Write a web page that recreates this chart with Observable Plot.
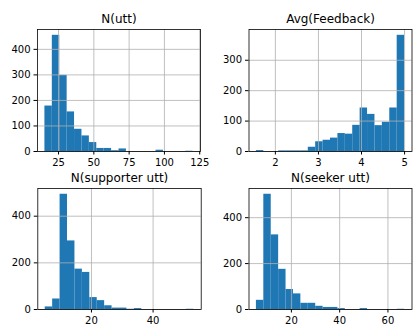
<!DOCTYPE html>
<html>
<head>
<meta charset="utf-8">
<script src="https://cdn.jsdelivr.net/npm/d3@7"></script>
<script src="https://cdn.jsdelivr.net/npm/@observablehq/plot@0.6"></script>
<style>
  html, body { margin: 0; padding: 0; background: white; }
  #chart { position: relative; width: 413px; height: 325px; overflow: hidden; background: white; }
  #chart svg { position: absolute; left: 0; top: 0; }
</style>
</head>
<body>
<div id="chart"></div>
<script>
// ---- Data (histogram bin counts, 20 bins each, and data range [min, max]) ----
const titles = ["N(utt)", "Avg(Feedback)", "N(supporter utt)", "N(seeker utt)"];

const nUttCounts = [178, 455, 298, 155, 87, 61, 35, 12, 12, 3, 10, 0, 0, 0, 0, 5, 0, 0, 0, 1];
const nUttRange = [15.35, 120.3];
const nUttXTicks = [25, 50, 75, 100, 125];
const nUttYTicks = [0, 100, 200, 300, 400];

const feedbackCounts = [3, 0, 0, 2, 2, 2, 2, 14, 32, 37, 44, 59, 57, 86, 143, 122, 85, 96, 143, 382];
const feedbackRange = [1.56, 5.0];
const feedbackXTicks = [2, 3, 4, 5];
const feedbackYTicks = [0, 100, 200, 300];

const supporterCounts = [11, 45, 494, 294, 173, 159, 51, 38, 16, 6, 6, 1, 4, 0, 0, 0, 0, 0, 0, 1];
const supporterRange = [5.0, 53.2];
const supporterXTicks = [20, 40];
const supporterYTicks = [0, 200, 400];

const seekerCounts = [40, 502, 325, 175, 87, 68, 27, 27, 14, 9, 9, 4, 0, 0, 4, 0, 0, 0, 0, 1];
const seekerRange = [5.5, 66.9];
const seekerXTicks = [20, 40, 60];
const seekerYTicks = [0, 200, 400];

// ---- Layout (frame placement of each subplot) ----
const W = 413, H = 325;
const layouts = [
  {marginLeft: 37, marginRight: 213, marginTop: 29, marginBottom: 174},
  {marginLeft: 248.5, marginRight: 1.5, marginTop: 29, marginBottom: 174},
  {marginLeft: 37.3, marginRight: 212.3, marginTop: 188, marginBottom: 16},
  {marginLeft: 248.5, marginRight: 1.5, marginTop: 188, marginBottom: 16}
];

const panels = [
  {counts: nUttCounts, range: nUttRange, xt: nUttXTicks, yt: nUttYTicks},
  {counts: feedbackCounts, range: feedbackRange, xt: feedbackXTicks, yt: feedbackYTicks},
  {counts: supporterCounts, range: supporterRange, xt: supporterXTicks, yt: supporterYTicks},
  {counts: seekerCounts, range: seekerRange, xt: seekerXTicks, yt: seekerYTicks}
];

function toBins(counts, [lo, hi]) {
  const w = (hi - lo) / counts.length;
  return counts.map((c, i) => ({x1: lo + i * w, x2: lo + (i + 1) * w, count: c}));
}

const chart = document.getElementById("chart");
panels.forEach((p, k) => {
  const [lo, hi] = p.range;
  const pad = (hi - lo) * 0.05;
  const ymax = d3.max(p.counts) * 1.05;
  const grid = {stroke: "#b0b0b0", strokeOpacity: 1, strokeWidth: 0.8};
  const svg = Plot.plot({
    width: W, height: H,
    ...layouts[k],
    style: {background: "transparent", fontFamily: "DejaVu Sans", fontSize: "10px", color: "black", overflow: "visible"},
    x: {domain: [lo - pad, hi + pad], label: null},
    y: {domain: [0, ymax], label: null},
    marks: [
      Plot.rectY(toBins(p.counts, p.range), {x1: "x1", x2: "x2", y: "count", fill: "#1f77b4"}),
      Plot.gridX(p.xt, grid),
      Plot.gridY(p.yt, grid),
      Plot.frame({stroke: "black", strokeWidth: 0.8}),
      Plot.axisX(p.xt, {tickSize: 3.5, tickPadding: 3.5, label: null, fontSize: 10}),
      Plot.axisY(p.yt, {tickSize: 3.5, tickPadding: 3.5, label: null, fontSize: 10}),
      Plot.text([titles[k]], {frameAnchor: "top", dy: -7, lineAnchor: "bottom", fontSize: 12})
    ]
  });
  chart.appendChild(svg);
});
</script>
</body>
</html>
